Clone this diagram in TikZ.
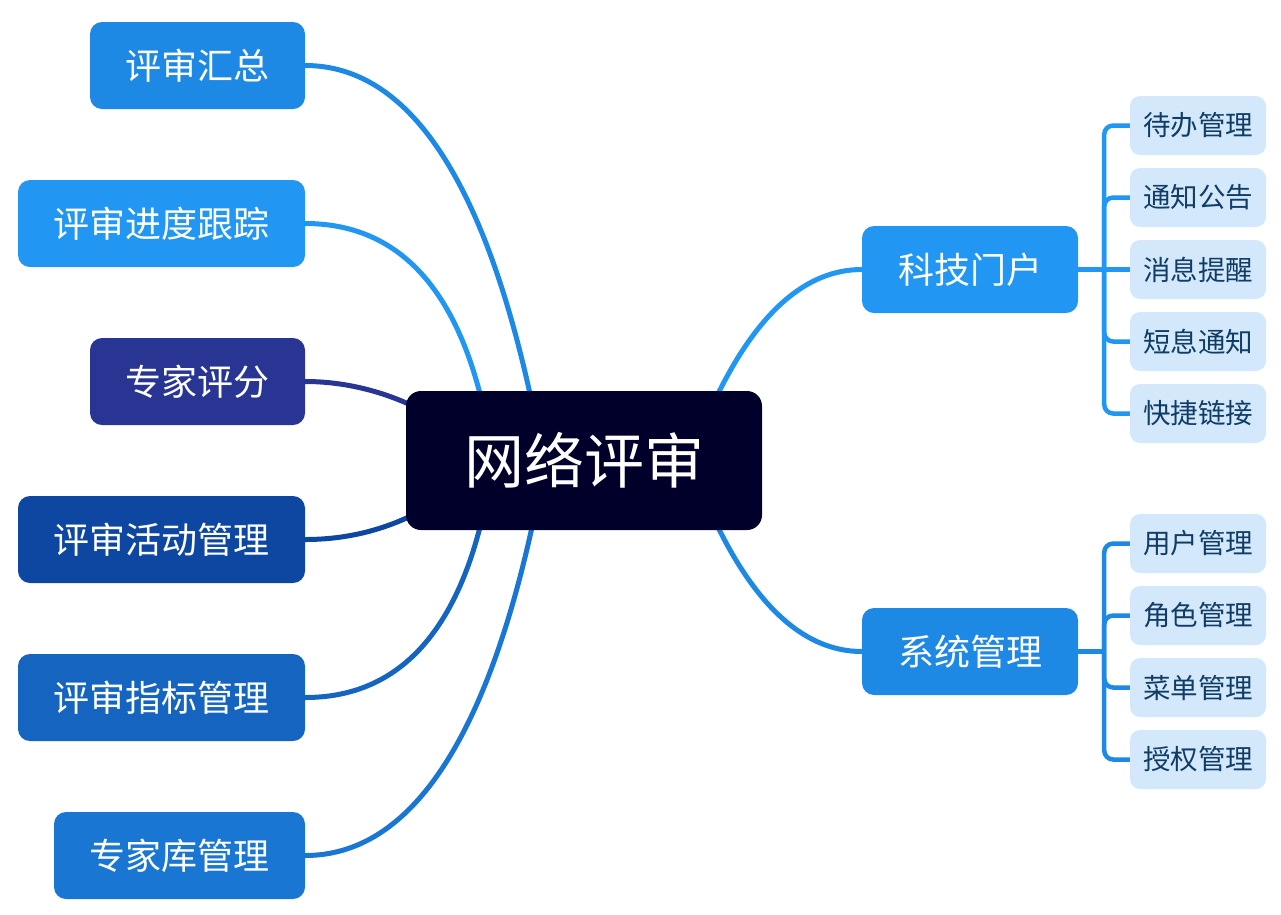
\documentclass[tikz,border=0pt]{standalone}
\usepackage{fontspec}
\setmainfont{Noto Sans CJK SC}
\usetikzlibrary{calc}
\definecolor{cA}{HTML}{1E88E5}
\definecolor{cB}{HTML}{2196F3}
\definecolor{cC}{HTML}{283593}
\definecolor{cD}{HTML}{0D47A1}
\definecolor{cE}{HTML}{1565C0}
\definecolor{cF}{HTML}{1976D2}
\definecolor{cCentre}{HTML}{00002A}
\definecolor{subfill}{HTML}{D3E8FB}
\definecolor{subtext}{HTML}{103C66}
\pgfdeclarelayer{bg}
\pgfsetlayers{bg,main}
\begin{document}
\begin{tikzpicture}[x=1pt,y=-1pt,
  mainbox/.style={rectangle, rounded corners=12pt, inner sep=0pt, minimum height=87pt,
    text=white, font=\fontsize{36}{40}\selectfont},
  subbox/.style={rectangle, rounded corners=10pt, inner sep=0pt, minimum height=59pt,
    minimum width=136pt, fill=subfill, text=subtext, font=\fontsize{27.5}{30}\selectfont},
  link/.style={line width=5pt},
  brk/.style={line width=4.5pt, rounded corners=9pt}]
\useasboundingbox (0,0) rectangle (1281,914);

% centre
\node[rectangle, rounded corners=15pt, inner sep=0pt, minimum width=356pt, minimum height=139pt,
  fill=cCentre, text=white, font=\fontsize{60}{66}\selectfont] (c) at (584,460.5) {网络评审};

% left nodes
\node[mainbox, fill=cA, minimum width=215pt] (s1) at (197.5,65.5) {评审汇总};
\node[mainbox, fill=cB, minimum width=287pt] (s2) at (161.5,223.5) {评审进度跟踪};
\node[mainbox, fill=cC, minimum width=215pt] (s3) at (197.5,381.5) {专家评分};
\node[mainbox, fill=cD, minimum width=287pt] (s4) at (161.5,539.5) {评审活动管理};
\node[mainbox, fill=cE, minimum width=287pt] (s5) at (161.5,697.5) {评审指标管理};
\node[mainbox, fill=cF, minimum width=251pt] (s6) at (179.5,855.5) {专家库管理};

% right nodes
\node[mainbox, fill=cB, minimum width=216pt] (r1) at (970,269.5) {科技门户};
\node[mainbox, fill=cA, minimum width=216pt] (r2) at (970,651.5) {系统管理};

\node[subbox] (a1) at (1198,125.5) {待办管理};
\node[subbox] (a2) at (1198,197.5) {通知公告};
\node[subbox] (a3) at (1198,269.5) {消息提醒};
\node[subbox] (a4) at (1198,341.5) {短息通知};
\node[subbox] (a5) at (1198,413.5) {快捷链接};

\node[subbox] (b1) at (1198,543.5) {用户管理};
\node[subbox] (b2) at (1198,615.5) {角色管理};
\node[subbox] (b3) at (1198,687.5) {菜单管理};
\node[subbox] (b4) at (1198,759.5) {授权管理};

\coordinate (ja) at ($(r1.east)+(26,0)$);
\coordinate (jb) at ($(r2.east)+(26,0)$);

\begin{pgfonlayer}{bg}
\draw[link, cA] (s1.east) .. controls +(102,0) and +(-48,-217) .. ($(c.north)+(-54,3)$);
\draw[link, cB] (s2.east) .. controls +(88,0) and +(-29,-112) .. ($(c.north)+(-104,3)$);
\draw[link, cC] (s3.east) .. controls +(38,0) and +(-31,-14) .. ($(c.west)+(4,-56)$);
\draw[link, cD] (s4.east) .. controls +(38,0) and +(-32,15) .. ($(c.west)+(4,56)$);
\draw[link, cE] (s5.east) .. controls +(88,0) and +(-29,112) .. ($(c.south)+(-104,-3)$);
\draw[link, cF] (s6.east) .. controls +(103,0) and +(-48,217) .. ($(c.south)+(-52,-3)$);
\draw[link, cB] (r1.west) .. controls +(-56,0) and +(40,-81) .. ($(c.north)+(134,3)$);
\draw[link, cA] (r2.west) .. controls +(-56,0) and +(40,81) .. ($(c.south)+(134,-3)$);

\draw[brk, cB] (r1.east) -- (ja);
\draw[brk, cB] (ja) |- (a1.west);
\draw[brk, cB] (ja) |- (a2.west);
\draw[brk, cB] (ja) -- (a3.west);
\draw[brk, cB] (ja) |- (a4.west);
\draw[brk, cB] (ja) |- (a5.west);

\draw[brk, cA] (r2.east) -- (jb);
\draw[brk, cA] (jb) |- (b1.west);
\draw[brk, cA] (jb) |- (b2.west);
\draw[brk, cA] (jb) |- (b3.west);
\draw[brk, cA] (jb) |- (b4.west);
\end{pgfonlayer}
\end{tikzpicture}
\end{document}
